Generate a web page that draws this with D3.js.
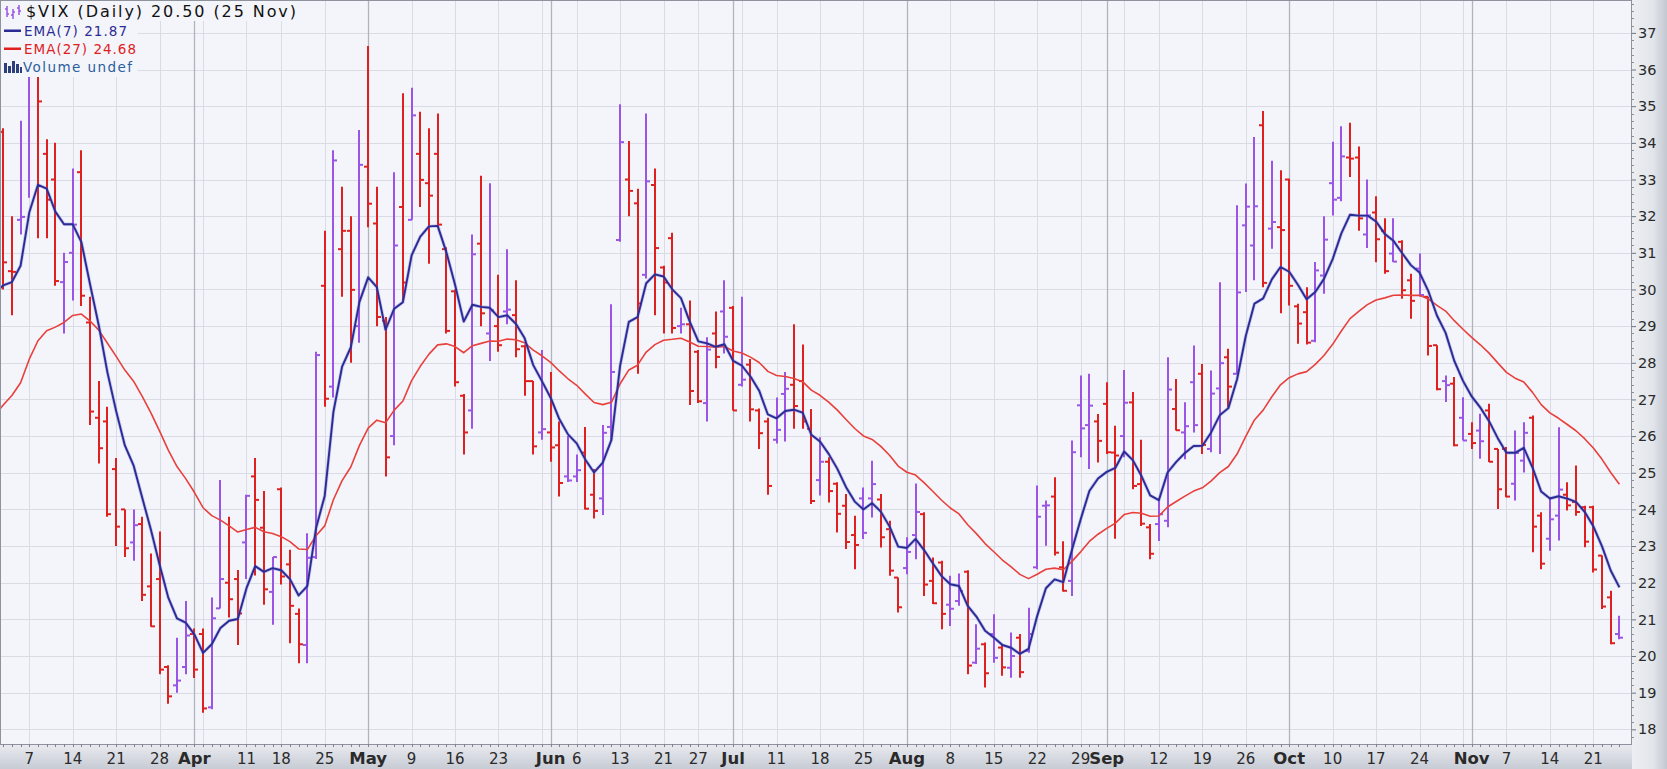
<!DOCTYPE html>
<html><head><meta charset="utf-8">
<script src="https://cdn.jsdelivr.net/npm/d3@7"></script>
<style>body{margin:0;background:#fff;}svg{display:block;}</style>
</head><body>
<svg id="c" width="1667" height="769"></svg>
<script>
// ---- data (VIX daily, 2022) ----
const dates = ["03-02","03-03","03-04","03-07","03-08","03-09","03-10","03-11","03-14","03-15","03-16","03-17","03-18","03-21","03-22","03-23","03-24","03-25","03-28","03-29","03-30","03-31",
"04-01","04-04","04-05","04-06","04-07","04-08","04-11","04-12","04-13","04-14","04-18","04-19","04-20","04-21","04-22","04-25","04-26","04-27","04-28","04-29",
"05-02","05-03","05-04","05-05","05-06","05-09","05-10","05-11","05-12","05-13","05-16","05-17","05-18","05-19","05-20","05-23","05-24","05-25","05-26","05-27","05-31",
"06-01","06-02","06-03","06-06","06-07","06-08","06-09","06-10","06-13","06-14","06-15","06-16","06-17","06-21","06-22","06-23","06-24","06-27","06-28","06-29","06-30",
"07-01","07-05","07-06","07-07","07-08","07-11","07-12","07-13","07-14","07-15","07-18","07-19","07-20","07-21","07-22","07-25","07-26","07-27","07-28","07-29",
"08-01","08-02","08-03","08-04","08-05","08-08","08-09","08-10","08-11","08-12","08-15","08-16","08-17","08-18","08-19","08-22","08-23","08-24","08-25","08-26","08-29","08-30","08-31",
"09-01","09-02","09-06","09-07","09-08","09-09","09-12","09-13","09-14","09-15","09-16","09-19","09-20","09-21","09-22","09-23","09-26","09-27","09-28","09-29","09-30",
"10-03","10-04","10-05","10-06","10-07","10-10","10-11","10-12","10-13","10-14","10-17","10-18","10-19","10-20","10-21","10-24","10-25","10-26","10-27","10-28","10-31",
"11-01","11-02","11-03","11-04","11-07","11-08","11-09","11-10","11-11","11-14","11-15","11-16","11-17","11-18","11-21","11-22","11-23","11-25"];

const opens = [34.3,30.5,31.9,36.3,36.5,33.7,33.0,30.2,31.0,33.2,29.1,26.5,26.4,25.1,24.0,23.1,23.6,21.9,22.1,19.7,19.2,19.7,
20.6,20.6,18.6,21.3,22.0,22.1,23.1,24.9,23.5,21.75,24.55,22.5,21.15,20.3,22.7,30.1,27.35,31.1,31.6,29.0,
33.35,31.8,29.15,26.0,32.25,31.9,33.7,32.9,33.7,31.1,29.95,27.1,26.7,31.25,28.8,29.0,29.4,29.3,28.45,27.5,26.1,
26.1,25.75,24.9,24.9,25.55,24.4,24.3,26.25,31.35,33.0,32.35,30.4,32.85,30.6,31.4,29.0,29.05,28.3,26.9,28.8,29.4,
29.5,27.4,27.95,26.7,26.4,25.9,27.15,27.4,27.5,26.2,24.8,25.3,24.7,24.1,23.3,24.3,24.3,24.27,23.46,22.14,
22.4,23.3,23.87,22.05,22.55,21.4,21.5,22.3,19.82,20.32,20.6,20.23,19.68,20.5,20.14,22.42,24.1,24.35,22.42,22.05,26.84,26.3,26.4,
26.88,25.55,26.0,26.92,24.69,23.51,23.6,23.69,26.74,26.1,27.47,27.7,25.65,27.3,28.15,27.7,31.75,31.2,34.48,31.66,31.7,
33.0,29.54,29.38,28.6,30.38,32.9,32.5,33.6,33.6,31.5,32.1,31.6,30.98,31.3,30.25,30.57,29.8,28.48,27.5,27.43,26.5,
26.06,26.15,26.7,25.65,25.65,24.7,25.33,26.5,23.83,23.2,23.83,24.4,24.2,24.06,24.06,22.74,21.6,20.6];

const highs = [34.4,32.0,34.6,37.8,37.5,34.1,34.0,31.0,33.3,33.8,29.8,27.5,26.8,25.4,24.0,24.0,23.8,22.8,23.4,19.75,20.5,21.5,
20.75,20.75,21.6,24.8,23.8,22.35,24.4,25.4,24.5,22.7,24.6,22.9,21.3,23.35,28.3,31.6,33.8,32.8,32.0,34.35,
36.64,32.8,29.25,33.2,35.35,35.5,34.85,34.4,34.8,31.15,30.0,27.15,31.5,33.1,32.9,30.4,31.1,30.25,28.5,27.5,28.35,
27.75,26.4,26.0,25.5,26.25,25.1,26.3,29.6,35.05,34.05,32.75,34.8,33.3,30.65,31.55,29.5,29.7,28.35,28.7,29.4,30.25,
29.55,29.8,28.1,26.75,26.5,27.05,27.75,29.05,28.5,26.74,25.97,25.42,24.74,24.42,23.83,24.6,25.33,24.42,23.69,22.14,
23.24,24.71,23.92,22.69,22.6,22.19,22.25,22.34,20.87,20.37,21.14,20.32,20.64,20.6,21.32,24.65,24.24,24.88,23.13,25.88,27.65,27.7,26.6,
27.47,26.28,27.8,27.2,25.9,23.6,24.28,28.15,27.56,26.92,28.47,27.97,27.79,30.2,28.38,32.3,32.89,34.16,34.87,33.51,33.25,
33.02,29.61,30.06,30.75,32.0,34.03,34.45,34.55,33.9,33.0,32.54,31.94,31.94,31.34,30.43,30.98,29.8,28.48,27.65,27.61,27.06,
26.38,26.61,26.88,25.65,25.7,26.15,26.38,26.56,23.92,24.33,26.24,24.74,25.2,24.1,24.1,22.74,21.78,21.1];

const lows = [30.0,29.3,31.5,32.5,31.4,31.4,30.1,28.8,29.7,29.55,26.3,25.25,23.8,23.0,22.7,22.6,21.5,20.8,19.5,18.7,19.0,19.5,
19.4,18.45,18.55,21.3,21.05,20.3,22.1,22.2,21.4,20.85,21.95,20.35,19.8,19.8,22.65,26.8,27.05,29.8,28.0,28.55,
31.7,29.0,24.9,25.75,29.7,31.9,32.25,30.7,31.7,28.8,27.35,25.5,26.2,29.0,28.05,28.3,29.05,28.15,27.1,25.5,25.9,
25.3,24.35,24.75,24.75,24.0,23.75,23.85,25.9,31.3,32.0,27.7,30.3,29.3,28.8,28.8,28.8,26.85,26.9,26.4,27.85,28.25,
26.7,27.35,26.4,25.65,24.4,25.8,25.85,26.2,26.2,24.15,24.38,24.19,23.37,22.92,22.37,23.19,23.78,22.96,22.19,21.19,
22.23,22.64,21.64,21.42,20.73,20.82,21.37,19.5,19.78,19.14,19.82,19.46,19.41,19.41,20.09,22.37,23.01,22.74,21.76,21.64,25.42,25.1,25.28,
25.51,23.2,25.42,24.55,23.55,22.64,23.14,23.51,26.15,25.37,26.1,25.51,25.56,25.51,26.78,27.7,29.93,30.25,30.06,31.11,29.35,
29.56,28.52,28.5,28.56,29.88,32.02,32.41,33.07,31.6,31.13,30.74,30.43,30.75,29.75,29.2,29.8,28.2,27.25,26.93,25.72,25.88,
25.65,25.38,25.29,24.01,24.33,24.24,25.01,22.83,22.37,22.87,23.15,23.97,23.83,22.97,22.28,21.28,20.32,20.46];

const closes = [30.74,30.48,31.98,36.45,35.13,32.45,30.23,30.75,31.77,29.83,26.67,25.67,23.87,23.53,22.94,23.57,21.67,20.81,19.63,18.90,19.33,20.56,
19.63,18.57,21.03,22.10,21.55,21.16,24.37,24.26,21.82,22.70,22.17,21.37,20.32,22.68,28.21,27.02,33.52,31.60,29.99,33.40,
32.34,29.25,25.42,31.20,30.19,34.75,32.99,32.56,31.77,28.87,27.47,26.10,30.96,29.35,29.43,28.48,29.45,28.37,27.50,25.72,26.19,
25.69,24.72,24.79,25.07,24.02,23.96,26.09,27.75,34.02,32.69,29.62,32.95,31.13,30.19,28.95,29.05,27.23,26.95,28.36,28.16,28.71,
26.70,27.54,26.73,26.08,24.64,26.17,27.29,26.82,26.40,24.23,25.30,24.50,23.88,23.11,23.03,23.36,24.69,23.24,22.33,21.33,
22.84,23.93,21.95,21.44,21.15,21.29,21.77,19.74,20.20,19.53,19.95,19.69,20.00,19.56,20.60,23.80,24.11,22.82,21.78,25.56,26.21,26.83,25.87,
25.56,25.47,26.91,24.64,23.61,22.79,23.87,27.27,26.16,26.27,26.30,25.76,27.16,27.99,27.35,29.92,32.26,32.27,30.18,31.84,31.62,
30.10,29.07,28.55,30.52,31.36,32.45,33.63,33.57,31.94,32.02,31.37,30.50,30.76,29.98,29.69,29.85,28.46,27.28,27.39,25.75,25.88,
25.81,25.86,25.30,24.55,24.35,25.54,26.09,23.53,22.52,23.73,24.54,24.11,23.93,23.12,22.36,21.35,20.35,20.50];

const priorClose = 33.32;          // close of the session before the first bar (01 Mar)
const ema7Prior = 29.9;            // EMA(7) value on 01 Mar (left edge of chart)
const ema27Prior = 26.55;          // EMA(27) value on 01 Mar

const weekStarts = ["03-07","03-14","03-21","03-28","04-04","04-11","04-18","04-25","05-02","05-09","05-16","05-23","05-31",
"06-06","06-13","06-21","06-27","07-05","07-11","07-18","07-25","08-01","08-08","08-15","08-22","08-29","09-06","09-12","09-19","09-26",
"10-03","10-10","10-17","10-24","10-31","11-07","11-14","11-21"];
const monthStarts = ["04-01","05-02","06-01","07-01","08-01","09-01","10-03","11-01"];
const xTickDates = ["03-07","03-14","03-21","03-28","04-01","04-11","04-18","04-25","05-02","05-09","05-16","05-23","06-01","06-06","06-13","06-21","06-27",
"07-01","07-11","07-18","07-25","08-01","08-08","08-15","08-22","08-29","09-01","09-12","09-19","09-26","10-03","10-10","10-17","10-24","11-01","11-07","11-14","11-21"];
const xTickText = ["7","14","21","28","Apr","11","18","25","May","9","16","23","Jun","6","13","21","27",
"Jul","11","18","25","Aug","8","15","22","29","Sep","12","19","26","Oct","10","17","24","Nov","7","14","21"];
const yTickValues = [18,19,20,21,22,23,24,25,26,27,28,29,30,31,32,33,34,35,36,37];

const legendTitle = "$VIX (Daily) 20.50 (25 Nov)";
const legendEma7 = "EMA(7) 21.87";
const legendEma27 = "EMA(27) 24.68";
const legendVol = "Volume undef";

// ---- layout ----
const W = 1667, H = 769;
const PL = 0, PR = 1632, PT = 0, PB = 744;
const BG = "#f4f5fa", GRID = "#d9dce4", MGRID = "#b0b4bd";
const UP = "#9b55e6", DN = "#e0201e", E7 = "#2b2b95", E27 = "#e8403c";
const FONT = "'DejaVu Sans', Verdana, sans-serif";

const svg = d3.select("#c");
const defs = svg.append("defs");
defs.append("clipPath").attr("id","clip").append("rect").attr("x",PL).attr("y",PT).attr("width",PR-PL).attr("height",PB-PT);
const gb = defs.append("linearGradient").attr("id","gb").attr("x1",0).attr("y1",0).attr("x2",0).attr("y2",1);
gb.append("stop").attr("offset","0%").attr("stop-color","#e9ebf0");
gb.append("stop").attr("offset","100%").attr("stop-color","#c7cbd4");
const gr = defs.append("linearGradient").attr("id","gr").attr("x1",0).attr("y1",0).attr("x2",1).attr("y2",0);
gr.append("stop").attr("offset","0%").attr("stop-color","#eceef2");
gr.append("stop").attr("offset","60%").attr("stop-color","#e2e5ea");
gr.append("stop").attr("offset","100%").attr("stop-color","#c3c7d0");

const x = d3.scalePoint().domain(dates).range([3.2, 1619.4]);
const step = x.step();
const y = d3.scaleLinear().domain([17.6, 37.87]).range([PB, 1]);

// backgrounds
svg.append("rect").attr("x",0).attr("y",0).attr("width",W).attr("height",H).attr("fill","#fff");
svg.append("rect").attr("x",PL).attr("y",PT).attr("width",PR-PL).attr("height",PB-PT).attr("fill",BG);
svg.append("rect").attr("x",0).attr("y",PB).attr("width",PR).attr("height",H-PB).attr("fill","url(#gb)");
svg.append("rect").attr("x",PR).attr("y",0).attr("width",W-PR).attr("height",H).attr("fill","url(#gr)");

const plot = svg.append("g").attr("clip-path","url(#clip)");

// grid
plot.append("g").selectAll("line").data(yTickValues).join("line")
  .attr("x1",PL).attr("x2",PR).attr("y1",d=>Math.round(y(d))+0.5).attr("y2",d=>Math.round(y(d))+0.5)
  .attr("stroke",GRID).attr("stroke-width",1);
plot.append("g").selectAll("line").data(weekStarts).join("line")
  .attr("x1",d=>Math.round(x(d))+0.5).attr("x2",d=>Math.round(x(d))+0.5).attr("y1",PT).attr("y2",PB)
  .attr("stroke",GRID).attr("stroke-width",1);
plot.append("g").selectAll("line").data(monthStarts).join("line")
  .attr("x1",d=>Math.round(x(d))+0.5).attr("x2",d=>Math.round(x(d))+0.5).attr("y1",PT).attr("y2",PB)
  .attr("stroke",MGRID).attr("stroke-width",1.3);

// OHLC bars
const bars = dates.map((d,i)=>({d,o:opens[i],h:highs[i],l:lows[i],c:closes[i],
  up: closes[i] > (i===0 ? priorClose : closes[i-1])}));
const bg = plot.append("g").attr("stroke-width",2).attr("fill","none");
const bar = bg.selectAll("g").data(bars).join("g").attr("stroke",b=>b.up?UP:DN);
bar.append("line").attr("x1",b=>Math.round(x(b.d))).attr("x2",b=>Math.round(x(b.d)))
  .attr("y1",b=>y(b.h)).attr("y2",b=>y(b.l));
bar.append("line").attr("x1",b=>Math.round(x(b.d))-4).attr("x2",b=>Math.round(x(b.d)))
  .attr("y1",b=>y(b.o)).attr("y2",b=>y(b.o));
bar.append("line").attr("x1",b=>Math.round(x(b.d))).attr("x2",b=>Math.round(x(b.d))+4)
  .attr("y1",b=>y(b.c)).attr("y2",b=>y(b.c));

// EMA lines (computed from closes)
function ema(prior, n){
  const k = 2/(n+1); const out=[{x:x(dates[0])-step, v:prior}]; let e = prior;
  closes.forEach((c,i)=>{ e = e + k*(c-e); out.push({x:x(dates[i]), v:e}); });
  return out;
}
const line = d3.line().x(p=>p.x).y(p=>y(p.v));
plot.append("path").datum(ema(ema27Prior,27)).attr("d",line).attr("fill","none")
  .attr("stroke",E27).attr("stroke-width",1.6).attr("stroke-linejoin","round");
plot.append("path").datum(ema(ema7Prior,7)).attr("d",line).attr("fill","none")
  .attr("stroke","#6a6ad0").attr("stroke-opacity",0.35).attr("stroke-width",3.4).attr("stroke-linejoin","round");
plot.append("path").datum(ema(ema7Prior,7)).attr("d",line).attr("fill","none")
  .attr("stroke",E7).attr("stroke-width",1.9).attr("stroke-linejoin","round");

// legend
const lg = svg.append("g").attr("font-family",FONT);
lg.append("rect").attr("x",0).attr("y",0).attr("width",298).attr("height",21).attr("fill",BG);
lg.append("rect").attr("x",0).attr("y",21).attr("width",138).attr("height",56).attr("fill",BG);
const ic = lg.append("g").attr("stroke",UP).attr("stroke-width",1.5);
[[7,6,17,9,14],[13,9,19,15,12],[19,5,15,8,11]].forEach(a=>{
  ic.append("line").attr("x1",a[0]).attr("x2",a[0]).attr("y1",a[1]).attr("y2",a[2]);
  ic.append("line").attr("x1",a[0]-2).attr("x2",a[0]).attr("y1",a[3]).attr("y2",a[3]);
  ic.append("line").attr("x1",a[0]).attr("x2",a[0]+2).attr("y1",a[4]).attr("y2",a[4]);
});
lg.append("text").attr("x",26).attr("y",17).attr("font-size",16).attr("fill","#111")
  .attr("textLength",270).attr("lengthAdjust","spacing").text(legendTitle);
lg.append("rect").attr("x",4).attr("y",29.5).attr("width",17).attr("height",2.5).attr("fill",E7);
lg.append("text").attr("x",24).attr("y",35.5).attr("font-size",13.5).attr("fill",E7)
  .attr("textLength",103).attr("lengthAdjust","spacing").text(legendEma7);
lg.append("rect").attr("x",4).attr("y",47.5).attr("width",17).attr("height",2.5).attr("fill",DN);
lg.append("text").attr("x",24).attr("y",54).attr("font-size",13.5).attr("fill",DN)
  .attr("textLength",112).attr("lengthAdjust","spacing").text(legendEma27);
const vi = lg.append("g").attr("fill","#2c3f7a");
[[4,63,3,10],[8,66,3,7],[12,61,3,12],[16,64,3,9],[20,67,2,6]].forEach(a=>
  vi.append("rect").attr("x",a[0]).attr("y",a[1]).attr("width",a[2]).attr("height",a[3]));
lg.append("text").attr("x",23).attr("y",72).attr("font-size",13.5).attr("fill","#2a5d9c")
  .attr("textLength",109).attr("lengthAdjust","spacing").text(legendVol);

// frame
svg.append("rect").attr("x",PL+0.5).attr("y",PT+0.5).attr("width",PR-PL-1).attr("height",PB-PT)
  .attr("fill","none").attr("stroke","#8d929c").attr("stroke-width",1);

// x axis (bottom)
const xa = svg.append("g");
xa.selectAll("line.m").data(dates).join("line").attr("class","m")
  .attr("x1",d=>Math.round(x(d))+0.5).attr("x2",d=>Math.round(x(d))+0.5).attr("y1",PB).attr("y2",PB+3)
  .attr("stroke","#7d828c").attr("stroke-width",1);
xa.selectAll("text").data(xTickDates).join("text")
  .attr("x",d=>x(d)).attr("y",PB+20).attr("text-anchor","middle")
  .attr("font-family",FONT)
  .attr("font-size",(d,i)=>isNaN(+xTickText[i])?16.5:15)
  .attr("font-weight",(d,i)=>isNaN(+xTickText[i])?"bold":"normal")
  .attr("fill","#2a2a2a").text((d,i)=>xTickText[i]);

// y axis (right)
const yAxis = d3.axisRight(y).tickValues(yTickValues).tickSize(4).tickPadding(2).tickFormat(d3.format("d"));
const ya = svg.append("g").attr("transform",`translate(${PR},0)`).call(yAxis);
ya.select(".domain").remove();
ya.selectAll(".tick line").attr("stroke","#6f747e");
ya.selectAll("text").attr("font-family",FONT).attr("font-size",14.5).attr("fill","#2a2a2a");
const minor = y.ticks(100).filter(v=>v>17.6 && Math.abs(v-Math.round(v))>0.01);
ya.append("g").selectAll("line").data(minor).join("line")
  .attr("x1",0).attr("x2",2).attr("y1",v=>Math.round(y(v))+0.5).attr("y2",v=>Math.round(y(v))+0.5)
  .attr("stroke","#8a8f99").attr("stroke-width",1);
</script>
</body></html>
